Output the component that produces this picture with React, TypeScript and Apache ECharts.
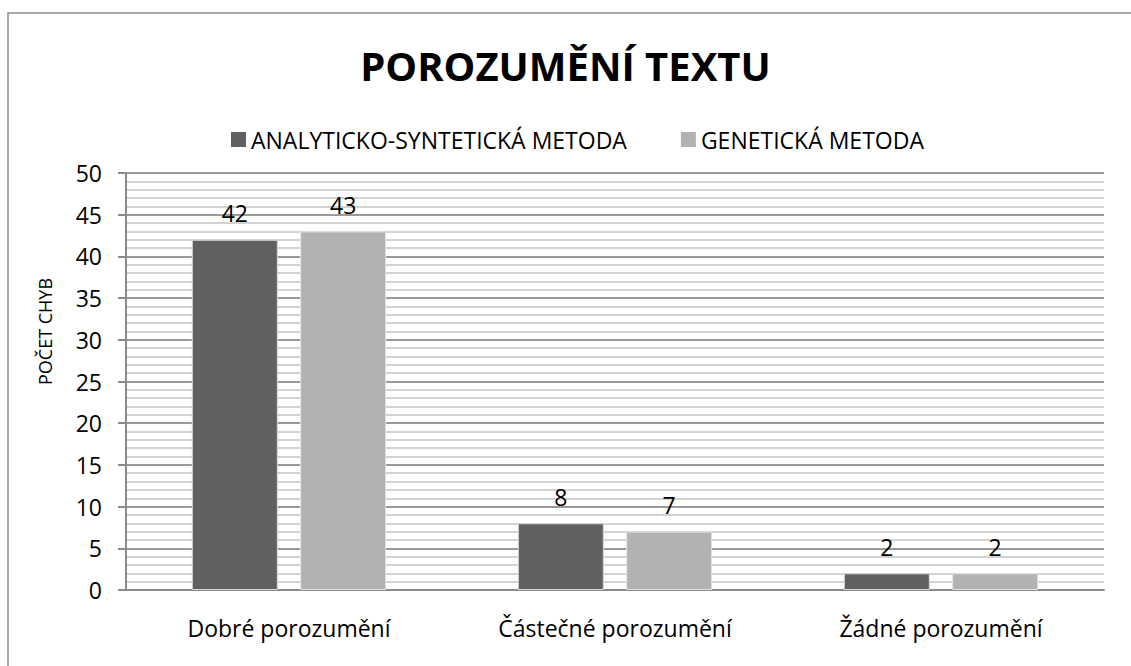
import React, { useEffect, useRef } from "react";
import * as echarts from "echarts";

const categories = ["Dobré porozumění", "Částečné porozumění", "Žádné porozumění"];
const seriesNames = ["ANALYTICKO-SYNTETICKÁ METODA", "GENETICKÁ METODA"];
const analyticValues = [42, 8, 2];
const geneticValues = [43, 7, 2];
const titleText = "POROZUMĚNÍ TEXTU";
const yAxisName = "POČET CHYB";

const FONT = "'Open Sans', 'Noto Sans', sans-serif";

export default function App() {
  const ref = useRef<HTMLDivElement>(null);
  useEffect(() => {
    if (!ref.current) return;
    const chart = echarts.init(ref.current, undefined, { renderer: "svg" });
    const labelCfg = {
      show: true,
      position: "top",
      distance: 15,
      color: "#000",
      fontSize: 23,
      fontFamily: FONT,
    };
    chart.setOption({
      animation: false,
      backgroundColor: "#fff",
      textStyle: { fontFamily: FONT },
      title: {
        text: titleText,
        left: "center",
        top: 40,
        textStyle: { fontSize: 40, fontWeight: "bold", color: "#000", fontFamily: FONT },
      },
      graphic: [
        {
          type: "rect",
          shape: { x: 8, y: 13, width: 1140, height: 700 },
          style: { fill: "none", stroke: "#8a8a8a", lineWidth: 1.5 },
          silent: true,
        },
      ],
      legend: {
        top: 123,
        left: 226,
        itemWidth: 15,
        itemHeight: 15,
        itemGap: 54,
        itemStyle: { borderWidth: 0 },
        icon: "rect",
        textStyle: { fontSize: 23, color: "#000", fontFamily: FONT },
        data: seriesNames,
      },
      grid: { left: 126, top: 173, right: 27, bottom: 76, containLabel: false },
      xAxis: {
        type: "category",
        data: categories,
        axisLine: { show: true, lineStyle: { color: "#8a8a8a", width: 2 } },
        axisTick: { show: false },
        axisLabel: { fontSize: 23, color: "#000", margin: 26, fontFamily: FONT },
      },
      yAxis: {
        type: "value",
        min: 0,
        max: 50,
        interval: 5,
        name: yAxisName,
        nameLocation: "middle",
        nameRotate: 90,
        nameGap: 72,
        nameTextStyle: { fontSize: 18, color: "#000", fontFamily: FONT, padding: [0, 0, 0, 100] },
        axisLine: { show: true, lineStyle: { color: "#8a8a8a", width: 2 } },
        axisTick: { show: true, length: 8, lineStyle: { color: "#8a8a8a", width: 2 } },
        axisLabel: { fontSize: 23, color: "#000", margin: 24, fontFamily: FONT },
        splitLine: { show: true, lineStyle: { color: "#9a9a9a", width: 2 } },
        minorTick: { show: false, splitNumber: 5 },
        minorSplitLine: { show: true, lineStyle: { color: "#c4c4c4", width: 1.6 } },
      },
      series: [
        {
          name: seriesNames[0],
          type: "bar",
          data: analyticValues,
          barWidth: 86,
          barGap: "26%",
          itemStyle: { color: "#606060", borderColor: "#d8d8d8", borderWidth: 1 },
          label: labelCfg,
        },
        {
          name: seriesNames[1],
          type: "bar",
          data: geneticValues,
          barWidth: 86,
          barGap: "26%",
          itemStyle: { color: "#b2b2b2", borderColor: "#e4e4e4", borderWidth: 1 },
          label: labelCfg,
        },
      ],
    });
    return () => chart.dispose();
  }, []);
  return (
    <div
      ref={ref}
      style={{ position: "absolute", left: 0, top: 0, width: 1131, height: 666 }}
    />
  );
}
